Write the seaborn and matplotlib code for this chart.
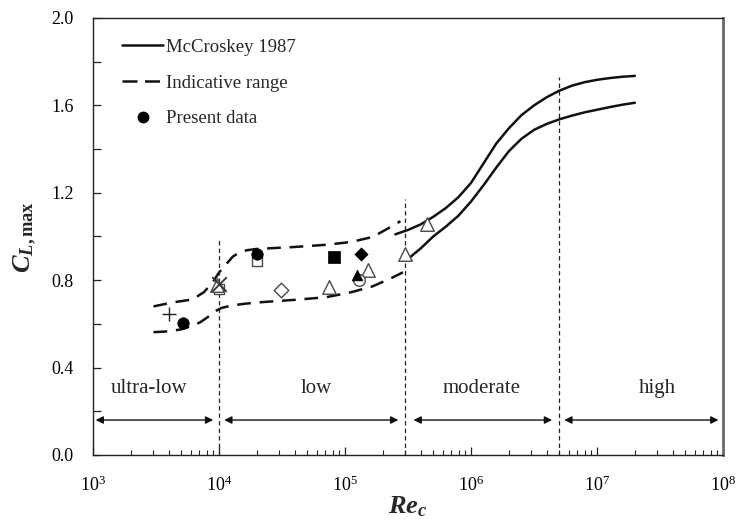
import numpy as np
import pandas as pd
import matplotlib
matplotlib.use("Agg")
import matplotlib.pyplot as plt
from matplotlib.lines import Line2D
from matplotlib.ticker import FixedLocator, LogLocator, NullFormatter
import seaborn as sns

# ---------------- data ----------------
# McCroskey 1987 band (log10 Re, CL)
mc_upper_logre = [5.40, 5.50, 5.60, 5.70, 5.80, 5.90, 6.00, 6.10, 6.20, 6.30,
                  6.40, 6.50, 6.60, 6.70, 6.80, 6.90, 7.00, 7.10, 7.20, 7.30]
mc_upper_cl = [1.01, 1.03, 1.055, 1.09, 1.13, 1.18, 1.245, 1.335, 1.425, 1.495,
               1.555, 1.60, 1.637, 1.667, 1.69, 1.706, 1.717, 1.725, 1.731, 1.735]
mc_lower_logre = [5.48, 5.60, 5.70, 5.80, 5.90, 6.00, 6.10, 6.20, 6.30, 6.40,
                  6.50, 6.60, 6.70, 6.80, 6.90, 7.00, 7.10, 7.20, 7.30]
mc_lower_cl = [0.888, 0.945, 1.00, 1.045, 1.095, 1.16, 1.235, 1.315, 1.39, 1.447,
               1.488, 1.515, 1.536, 1.553, 1.568, 1.58, 1.592, 1.603, 1.612]

# indicative range
ind_upper_logre = [3.48, 3.63, 3.79, 3.88, 3.95, 4.00, 4.06, 4.11, 4.16, 4.22,
                   4.30, 4.60, 4.85, 5.05, 5.22, 5.32, 5.44]
ind_upper_cl = [0.680, 0.698, 0.712, 0.745, 0.79, 0.835, 0.875, 0.908, 0.926, 0.937,
                0.943, 0.952, 0.962, 0.975, 0.998, 1.03, 1.07]
ind_lower_logre = [3.48, 3.60, 3.70, 3.78, 3.85, 3.92, 3.97, 4.02, 4.10, 4.20,
                   4.35, 4.60, 4.85, 5.05, 5.22, 5.38, 5.46]
ind_lower_cl = [0.562, 0.566, 0.575, 0.59, 0.607, 0.635, 0.658, 0.673, 0.684, 0.692,
                0.70, 0.71, 0.722, 0.745, 0.772, 0.813, 0.836]

# literature / present data points
pt_re = [4000, 5200, 2.0e4, 1.0e4, 2.0e4, 1.0e4, 9.6e3, 7.5e4, 1.52e5, 3.0e5, 4.5e5,
         3.1e4, 8.2e4, 1.34e5, 1.25e5, 1.28e5]
pt_cl = [0.644, 0.603, 0.918, 0.758, 0.89, 0.781, 0.78, 0.767, 0.845, 0.918, 1.055,
         0.753, 0.904, 0.922, 0.826, 0.80]
pt_kind = ["plus", "fcircle", "fcircle", "osquare", "osquare", "cross", "otri", "otri",
           "otri", "otri", "otri", "odiamond", "fsquare", "fdiamond", "ftri", "ocircle"]

# regime bounds / labels
regime_bounds = [1.0e4, 3.0e5, 5.0e6]
regime_line_top = [0.995, 1.17, 1.73]
regime_names = ["ultra-low", "low", "moderate", "high"]
regime_label_x = [2770, 5.9e4, 1.22e6, 3.0e7]
regime_arrow_x = [(1.05e3, 9.0e3), (1.1e4, 2.65e5), (3.5e5, 4.4e6), (5.5e6, 9.2e7)]

y_ticks = [0.0, 0.4, 0.8, 1.2, 1.6, 2.0]
y_minor = [0.2, 0.6, 1.0, 1.4, 1.8]

# ---------------- style ----------------
sns.set_style("ticks")
plt.rcParams["font.family"] = ["Liberation Serif", "DejaVu Serif"]
plt.rcParams["mathtext.fontset"] = "custom"
plt.rcParams["mathtext.rm"] = "Liberation Serif"
plt.rcParams["mathtext.it"] = "Liberation Serif:italic"
plt.rcParams["mathtext.bf"] = "Liberation Serif:bold"
plt.rcParams["mathtext.bfit"] = "Liberation Serif:italic:bold"

fig = plt.figure(figsize=(7.48, 5.26), dpi=100)
ax = fig.add_axes([0.1243, 0.135, 0.8423, 0.8308])

line_kw = dict(estimator=None, sort=False, legend=False, ax=ax, color="#111111")
dash = (5.5, 3.5)
sns.lineplot(x=10 ** np.array(mc_upper_logre), y=mc_upper_cl, lw=1.8, **line_kw)
sns.lineplot(x=10 ** np.array(mc_lower_logre), y=mc_lower_cl, lw=1.8, **line_kw)
sns.lineplot(x=10 ** np.array(ind_upper_logre), y=ind_upper_cl, lw=1.8, **line_kw)
ax.lines[-1].set_dashes(dash)
sns.lineplot(x=10 ** np.array(ind_lower_logre), y=ind_lower_cl, lw=1.8, **line_kw)
ax.lines[-1].set_dashes(dash)
for ln in ax.lines:
    ln.set_solid_joinstyle("round")
    ln.set_dash_joinstyle("round")

# regime separators
for xb, yt in zip(regime_bounds, regime_line_top):
    ax.plot([xb, xb], [0, yt], color="#222222", lw=0.9, dashes=(3.5, 2.5))

# markers
df = pd.DataFrame({"re": pt_re, "cl": pt_cl, "kind": pt_kind})
grey = "#4a4a4a"
styles = {
    "osquare": dict(marker="s", s=50, facecolor="white", edgecolor=grey, linewidth=1.0),
    "fcircle": dict(marker="o", s=68, facecolor="black", edgecolor="black", linewidth=0.5),
    "plus": dict(marker="+", s=110, color="#222222", linewidth=1.0),
    "cross": dict(marker="x", s=110, color="#333333", linewidth=1.3),
    "otri": dict(marker="^", s=95, facecolor="white", edgecolor=grey, linewidth=1.0),
    "odiamond": dict(marker="D", s=55, facecolor="white", edgecolor=grey, linewidth=1.0),
    "fsquare": dict(marker="s", s=65, facecolor="black", edgecolor="black", linewidth=0.5),
    "fdiamond": dict(marker="D", s=45, facecolor="black", edgecolor="black", linewidth=0.5),
    "ftri": dict(marker="^", s=60, facecolor="black", edgecolor="black", linewidth=0.5),
    "ocircle": dict(marker="o", s=70, facecolor="white", edgecolor=grey, linewidth=1.0),
}
order = ["osquare", "otri", "ocircle", "ftri", "fcircle", "plus", "cross",
         "odiamond", "fsquare", "fdiamond"]
for k in order:
    sub = df[df["kind"] == k]
    sns.scatterplot(data=sub, x="re", y="cl", ax=ax, legend=False, zorder=5, **styles[k])

# regime labels and arrows
for name, lx in zip(regime_names, regime_label_x):
    ax.text(lx, 0.306, name, ha="center", va="center", fontsize=15)
for x0, x1 in regime_arrow_x:
    ax.annotate("", xy=(x1, 0.16), xytext=(x0, 0.16),
                arrowprops=dict(arrowstyle="<|-|>", color="#111111", lw=1.0,
                                mutation_scale=11, shrinkA=0, shrinkB=0))

# axes
ax.set_xscale("log")
ax.set_xlim(1e3, 1e8)
ax.set_ylim(0, 2.0)
ax.yaxis.set_major_locator(FixedLocator(y_ticks))
ax.yaxis.set_minor_locator(FixedLocator(y_minor))
ax.set_yticklabels([f"{v:.1f}" for v in y_ticks])
ax.xaxis.set_major_locator(LogLocator(base=10, numticks=10))
ax.xaxis.set_minor_locator(LogLocator(base=10, subs=np.arange(2, 10), numticks=20))
ax.xaxis.set_minor_formatter(NullFormatter())
ax.tick_params(axis="both", which="both", direction="in", colors="#222222",
               labelcolor="black", labelsize=13)
ax.tick_params(axis="y", which="both", length=6, width=0.9, pad=14)
ax.tick_params(axis="x", which="major", length=6, width=0.9, pad=15)
ax.tick_params(axis="x", which="minor", length=3.5, width=0.8)

for side in ["left", "bottom", "top"]:
    ax.spines[side].set_color("#222222")
    ax.spines[side].set_linewidth(1.0)
ax.spines["right"].set_color("#6a6a6a")
ax.spines["right"].set_linewidth(2.0)

ax.set_ylabel(r"$\mathbfit{C}_{\mathbfit{L}\mathbf{,max}}$", fontsize=19)
ax.yaxis.set_label_coords(-0.085, 0.5)
ax.set_xlabel(r"$\mathbfit{Re}_{\mathbfit{c}}$", fontsize=19)
ax.xaxis.set_label_coords(0.5, -0.09)

handles = [Line2D([], [], color="#111111", lw=1.8),
           Line2D([], [], color="#111111", lw=1.8, dashes=(6, 3)),
           Line2D([], [], color="black", marker="o", linestyle="none", markersize=7.5)]
labels = ["McCroskey 1987", "Indicative range", "Present data"]
ax.legend(handles, labels, loc="upper left", bbox_to_anchor=(0.046, 0.953),
          frameon=False, fontsize=13.5, handlelength=2.2, handletextpad=0.15,
          labelspacing=1.0, borderpad=0, borderaxespad=0)

fig.savefig("out.png", dpi=100)
